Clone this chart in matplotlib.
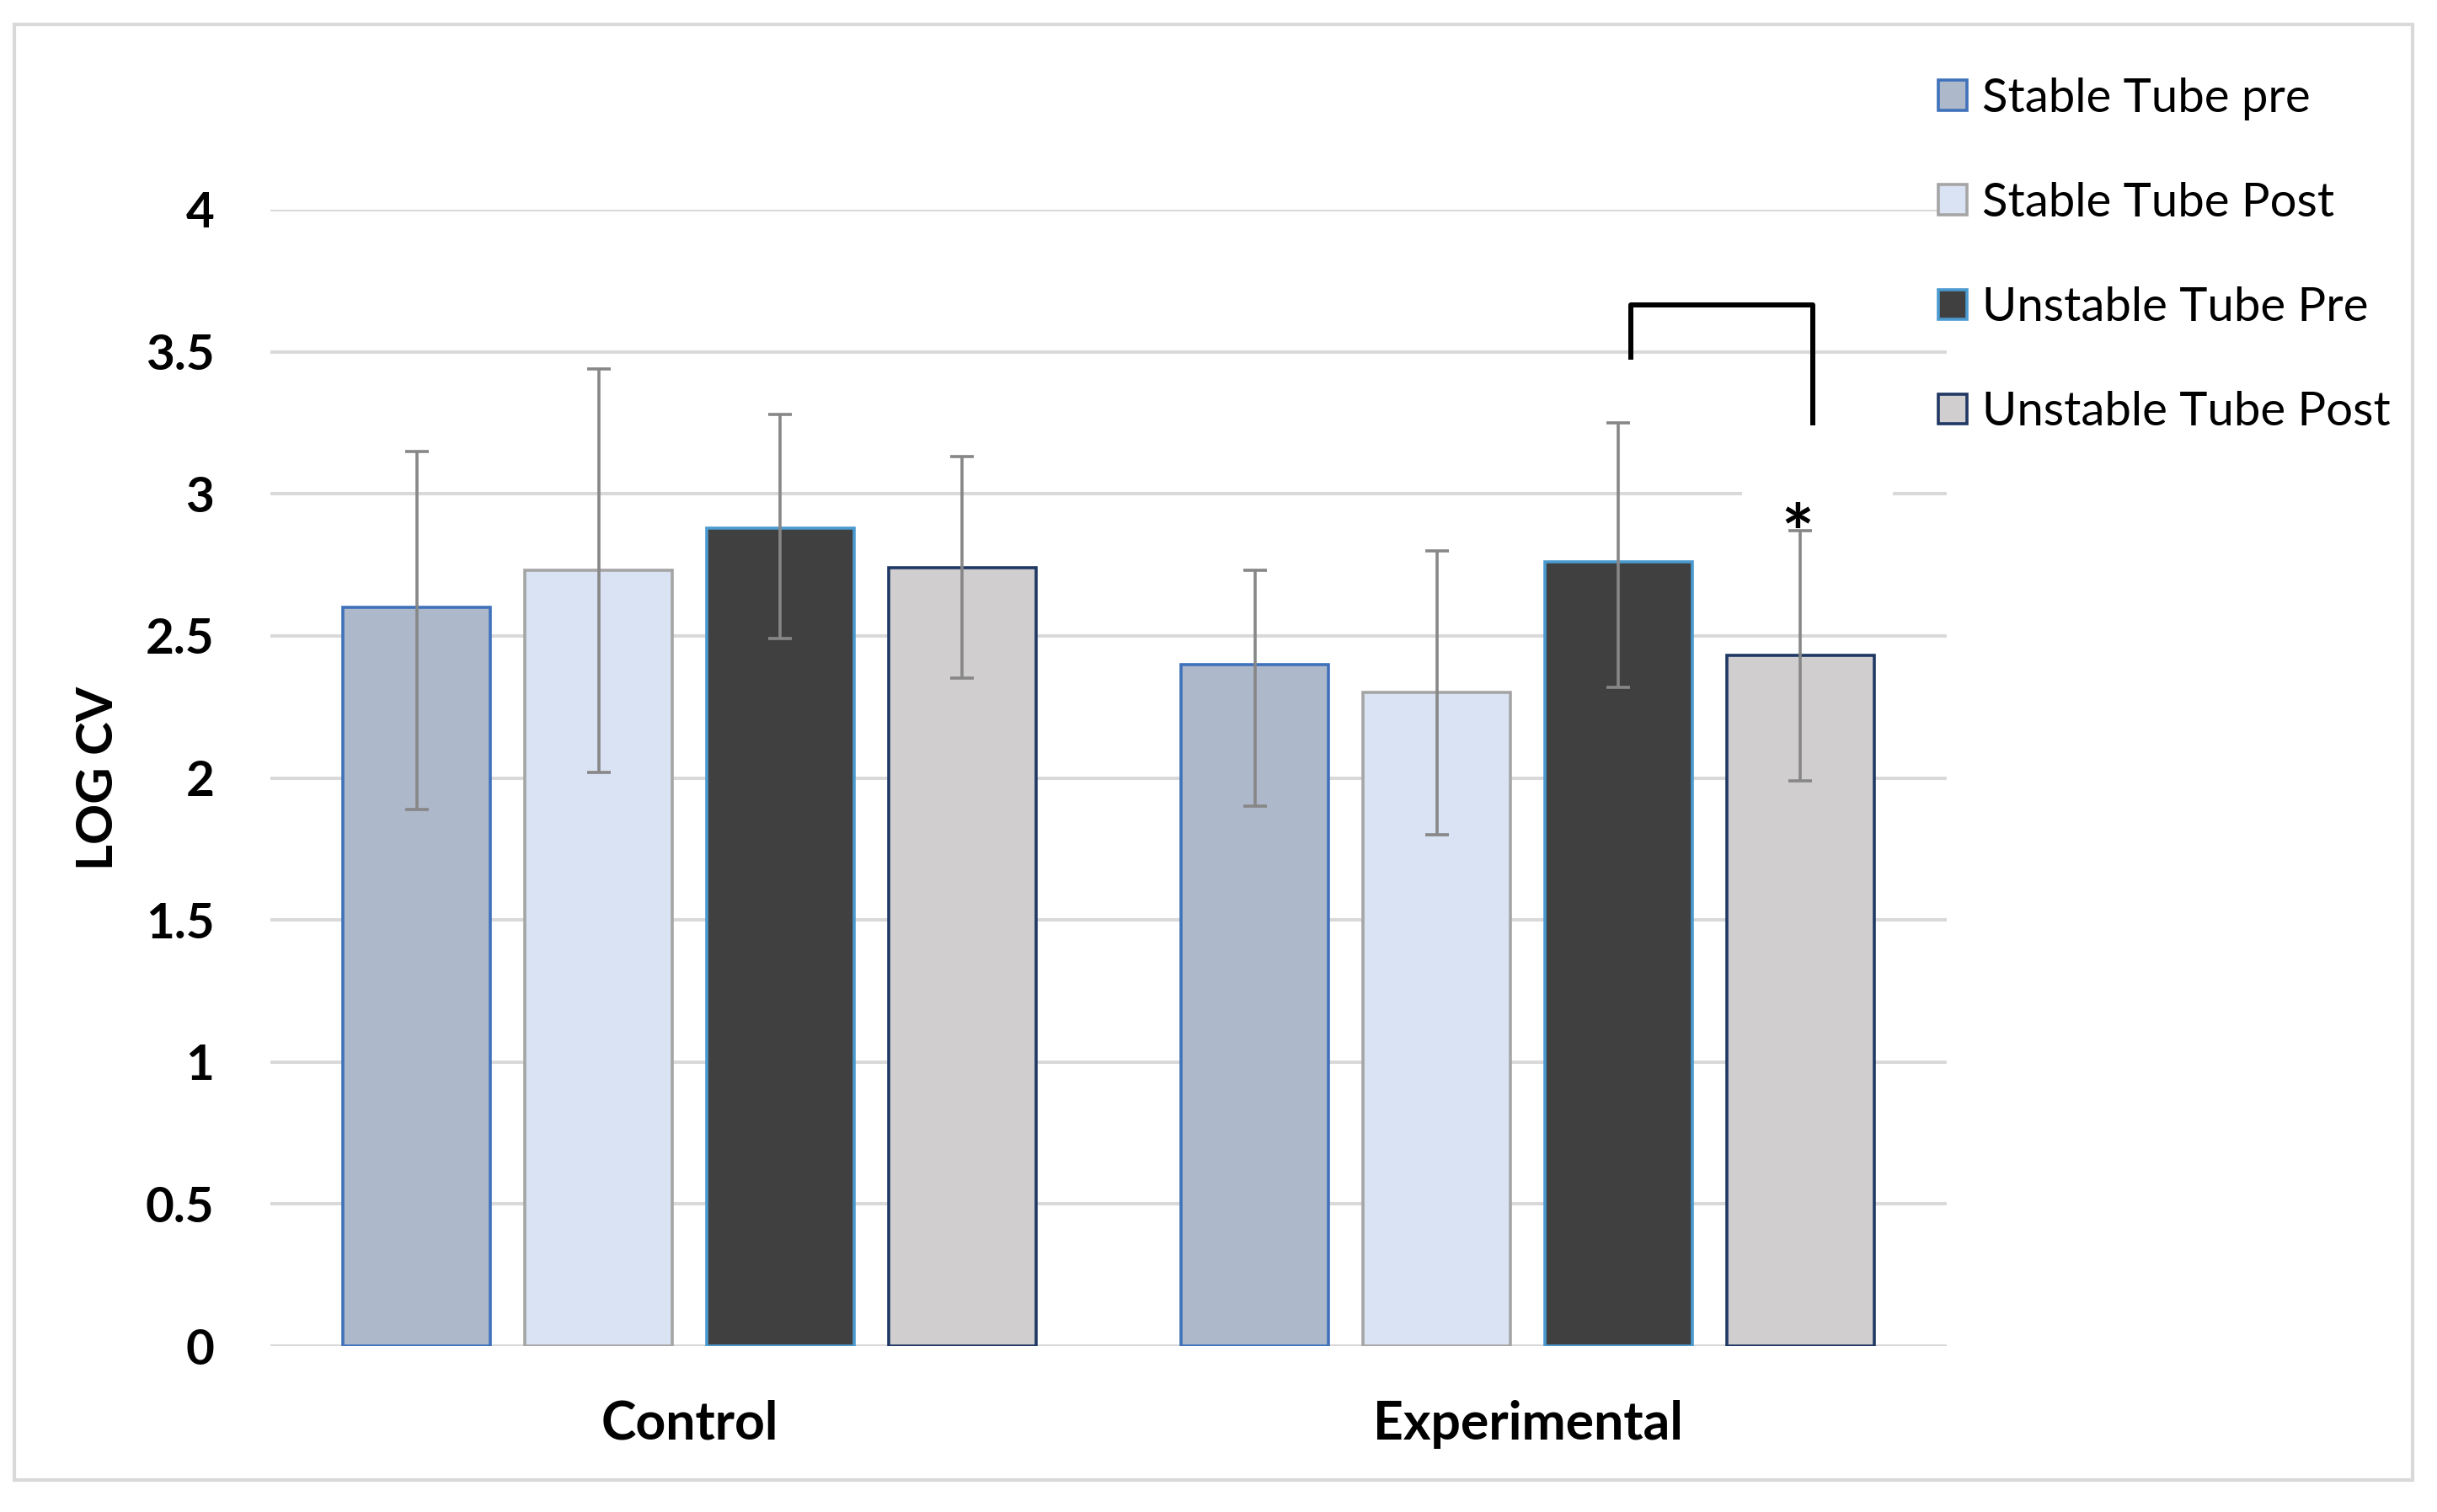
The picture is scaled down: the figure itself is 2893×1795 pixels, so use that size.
import numpy as np
import matplotlib.pyplot as plt
from matplotlib.patches import Patch, Rectangle

plt.rcParams['font.family'] = ['Lato', 'DejaVu Sans']

groups = ['Control', 'Experimental']
series = ['Stable Tube pre', 'Stable Tube Post', 'Unstable Tube Pre', 'Unstable Tube Post']

# mean LOG CV per group, one list per series
stable_pre = [2.60, 2.40]
stable_post = [2.73, 2.30]
unstable_pre = [2.88, 2.76]
unstable_post = [2.74, 2.43]

# error bars (lower, upper)
stable_pre_lo = [0.71, 0.50]
stable_pre_hi = [0.55, 0.33]
stable_post_lo = [0.71, 0.50]
stable_post_hi = [0.71, 0.50]
unstable_pre_lo = [0.39, 0.44]
unstable_pre_hi = [0.40, 0.49]
unstable_post_lo = [0.39, 0.44]
unstable_post_hi = [0.39, 0.44]

yticks = [0, 0.5, 1, 1.5, 2, 2.5, 3, 3.5, 4]
ytick_labels = ['0', '0.5', '1', '1.5', '2', '2.5', '3', '3.5', '4']

values = [stable_pre, stable_post, unstable_pre, unstable_post]
err_lo = [stable_pre_lo, stable_post_lo, unstable_pre_lo, unstable_post_lo]
err_hi = [stable_pre_hi, stable_post_hi, unstable_pre_hi, unstable_post_hi]
fills = ['#adb9ca', '#dae3f3', '#404040', '#d0cece']
edges = ['#3f72bb', '#a5a5a5', '#4b9ad0', '#203864']

W, H = 2893, 1795
fig = plt.figure(figsize=(W / 100, H / 100), dpi=100)
ax = fig.add_axes([321 / W, 1 - 1598 / H, (2311 - 321) / W, (1598 - 249) / H])

x = np.arange(len(groups))
step = 0.217
width = 0.176
offsets = (np.arange(len(series)) - 1.5) * step

for i in range(len(series)):
    ax.bar(x + offsets[i], values[i], width, color=fills[i], edgecolor=edges[i],
           linewidth=2.6, label=series[i], zorder=2,
           yerr=[err_lo[i], err_hi[i]],
           error_kw=dict(ecolor='#878787', elinewidth=2.6, capsize=10, capthick=2.6, zorder=3))

ax.set_xlim(-0.5, 1.5)
ax.set_ylim(0, 4)
ax.set_yticks(yticks, ytick_labels)
ax.set_xticks(x, groups)
ax.yaxis.grid(True, color='#d9d9d9', linewidth=2.9)
ax.set_axisbelow(True)
for s in ax.spines.values():
    s.set_visible(False)
ax.tick_params(axis='y', length=0, pad=48, labelsize=42)
ax.tick_params(axis='x', length=0, pad=46, labelsize=45)
for lab in ax.get_xticklabels() + ax.get_yticklabels():
    lab.set_fontweight('bold')

ax.set_ylabel('LOG CV', fontsize=43, fontweight='bold')
ax.yaxis.set_label_coords(-0.089, 0.5)

# significance bracket between the two unstable bars of the experimental group
xa = x[1] + offsets[2] + 0.015
xb = x[1] + offsets[3] + 0.015
ax.plot([xa, xa, xb, xb], [3.48, 3.665, 3.665, 3.25], color='black', lw=4.3, zorder=4)
xs = x[1] + offsets[3]
ax.add_patch(Rectangle((xs - 0.07, 2.95), 0.18, 0.1, facecolor='white', edgecolor='none', zorder=1))
ax.text(xs - 0.004, 2.84, '*', ha='center', va='center', fontsize=66, fontweight='bold', zorder=4)

handles = [Patch(facecolor=fills[i], edgecolor=edges[i], linewidth=2.6) for i in range(len(series))]
fig.legend(handles, series, loc='upper left', bbox_to_anchor=(2301 / W, 1 - 92 / H),
           frameon=False, fontsize=40.5, handlelength=0.6, handleheight=0.6,
           handletextpad=0.32, labelspacing=1.3, borderpad=0, borderaxespad=0)

fig.patches.append(Rectangle((17 / W, 1 - 1757 / H), (2864 - 17) / W, (1757 - 29) / H,
                             transform=fig.transFigure, fill=False, edgecolor='#d9d9d9', lw=3))

fig.savefig('out.png', dpi=100, facecolor='white')
